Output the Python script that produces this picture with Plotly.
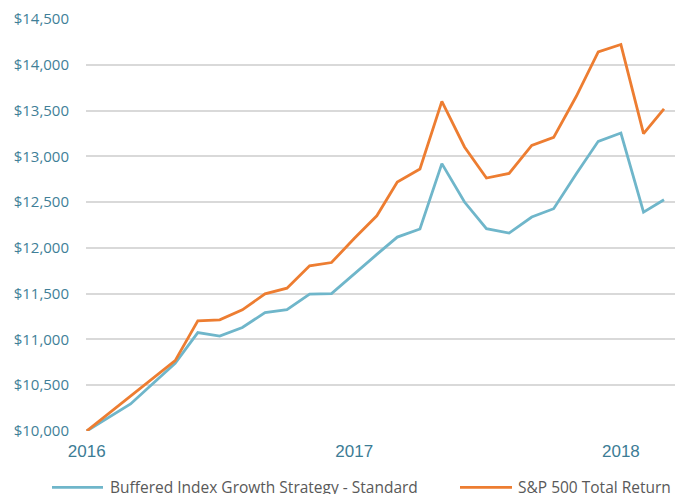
import plotly.graph_objects as go

months = ["2016-01-01","2016-02-01","2016-03-01","2016-04-01","2016-05-01","2016-06-01",
          "2016-07-01","2016-08-01","2016-09-01","2016-10-01","2016-11-01","2016-12-01",
          "2017-01-01","2017-02-01","2017-03-01","2017-04-01","2017-05-01","2017-06-01",
          "2017-07-01","2017-08-01","2017-09-01","2017-10-01","2017-11-01","2017-12-01",
          "2018-01-01","2018-02-01","2018-03-01"]

buffered = [10000, 10153, 10295, 10522, 10740, 11075, 11036, 11130, 11294, 11326, 11495, 11501,
            11718, 11929, 12118, 12206, 12920, 12501, 12209, 12162, 12337, 12428, 12810, 13164,
            13255, 12391, 12526]

sp500 = [10000, 10198, 10383, 10572, 10769, 11203, 11214, 11323, 11498, 11560, 11804, 11840,
         12103, 12350, 12720, 12862, 13601, 13102, 12763, 12814, 13120, 13207, 13656, 14141,
         14221, 13248, 13518]

series_names = ["Buffered Index Growth Strategy - Standard", "S&P 500 Total Return"]
series_colors = ["#6fb6ca", "#ed7d31"]

y_ticks = [10000, 10500, 11000, 11500, 12000, 12500, 13000, 13500, 14000, 14500]
y_tick_labels = ["$10,000", "$10,500", "$11,000", "$11,500", "$12,000", "$12,500",
                 "$13,000", "$13,500", "$14,000", "$14,500"]
x_ticks = ["2016-01-01", "2017-01-01", "2018-01-01"]
x_tick_labels = ["2016", "2017", "2018"]

# the page body has an 8px default margin, so the figure is sized to fit the window
W, H = 675, 486
ML, MR, MT, MB = 78, 0, 11, 63
PW, PH = W - ML - MR, H - MT - MB

fig = go.Figure()
for vals, name, color in zip([buffered, sp500], series_names, series_colors):
    fig.add_trace(go.Scatter(x=months, y=vals, mode="lines", name=name,
                             line=dict(color=color, width=2.8), showlegend=False))

# legend drawn below the plot (key line + label), in pixel positions converted to paper units
def px(x):
    return (x - ML) / PW

def py(y):
    return (H - MB - y) / PH

legend_y = 479.3
legend_items = [(44, 95, 100), (452, 504, 508)]
for (x0, x1, tx), name, color in zip(legend_items, series_names, series_colors):
    fig.add_shape(type="line", xref="paper", yref="paper",
                  x0=px(x0), x1=px(x1), y0=py(legend_y), y1=py(legend_y),
                  line=dict(color=color, width=2.8))
    fig.add_annotation(xref="paper", yref="paper", x=px(tx), y=py(legend_y),
                       xanchor="left", yanchor="middle", showarrow=False, text=name,
                       font=dict(family="Open Sans", size=15.5, color="#595959"))

fig.update_layout(
    width=W, height=H,
    margin=dict(l=ML, r=MR, t=MT, b=MB, autoexpand=False),
    paper_bgcolor="white", plot_bgcolor="white",
    showlegend=False,
    xaxis=dict(type="date", range=["2015-12-31", "2018-03-27"],
               tickvals=x_ticks, ticktext=x_tick_labels,
               showgrid=False, zeroline=False, showline=False, automargin=False,
               tickfont=dict(family="Liberation Sans, Arial", size=17, color="#3c7c95"),
               ticks="outside", ticklen=5, tickcolor="rgba(0,0,0,0)"),
    yaxis=dict(range=[10000, 14500], tickvals=y_ticks, ticktext=y_tick_labels,
               showgrid=True, gridcolor="#d9d9d9", gridwidth=2,
               zeroline=False, showline=False, automargin=False,
               tickfont=dict(family="Open Sans", size=15, color="#3f7f98"),
               ticks="outside", ticklen=13, tickcolor="rgba(0,0,0,0)"),
)

fig.write_html("out.html")
